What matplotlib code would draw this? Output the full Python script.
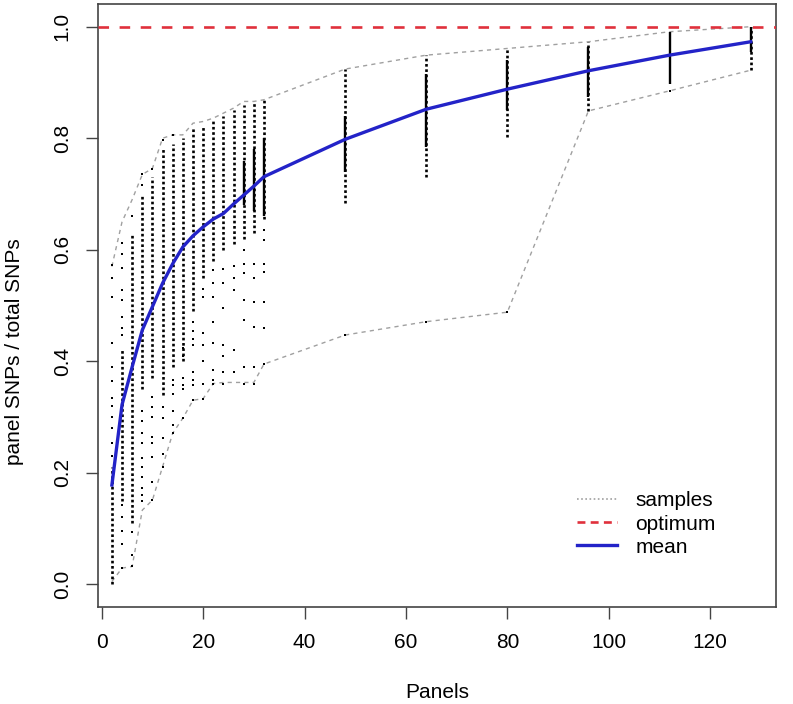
import matplotlib.pyplot as plt
from matplotlib.lines import Line2D

plt.rcParams['font.family'] = ['Liberation Sans', 'DejaVu Sans']

# panel counts and summary curves
panels = [2, 4, 6, 8, 10, 12, 14, 16, 18, 20, 22, 24, 26, 28, 30, 32, 48, 64, 80, 96, 112, 128]
mean_frac = [0.178, 0.322, 0.39, 0.456, 0.498, 0.540, 0.575, 0.605, 0.625, 0.641, 0.655,
             0.665, 0.682, 0.698, 0.714, 0.731, 0.798, 0.852, 0.888, 0.921, 0.949, 0.973]
upper_env = [0.570, 0.650, 0.690, 0.735, 0.746, 0.800, 0.806, 0.806, 0.827, 0.830, 0.836,
             0.845, 0.854, 0.866, 0.866, 0.869, 0.924, 0.949, 0.961, 0.973, 0.991, 1.0]
lower_env = [0.005, 0.029, 0.032, 0.133, 0.151, 0.211, 0.271, 0.298, 0.330, 0.333, 0.360,
             0.362, 0.362, 0.362, 0.362, 0.395, 0.447, 0.471, 0.488, 0.849, 0.885, 0.922]

# sample values: dotted runs (x, lo, hi), solid runs (x, lo, hi), isolated values
dotted_runs = [(2, 0.0, 0.21), (4, 0.15, 0.42), (6, 0.11, 0.63), (8, 0.35, 0.70),
               (10, 0.37, 0.73), (12, 0.34, 0.78), (14, 0.39, 0.79), (16, 0.40, 0.80),
               (18, 0.49, 0.82), (20, 0.55, 0.82), (22, 0.58, 0.83), (24, 0.60, 0.84),
               (26, 0.61, 0.85), (28, 0.62, 0.86), (30, 0.63, 0.865), (32, 0.655, 0.868),
               (48, 0.684, 0.924), (64, 0.73, 0.949), (80, 0.803, 0.961), (96, 0.849, 0.973),
               (128, 0.922, 1.0)]
solid_runs = [(28, 0.68, 0.76), (30, 0.67, 0.78), (32, 0.66, 0.80), (48, 0.74, 0.84),
              (64, 0.785, 0.916), (80, 0.85, 0.94), (96, 0.874, 0.964), (112, 0.898, 0.991),
              (128, 0.955, 1.0)]
single_x = [2] * 12 + [4] * 13 + [6] * 4 + [8] * 12 + [10] * 9 + [12] * 6 + [14] * 7 \
    + [16] * 6 + [18] * 8 + [20] * 7 + [22] * 8 + [24] * 7 + [26] * 5 + [28] * 7 \
    + [30] * 6 + [32] * 7 + [48, 64, 80, 112]
single_y = [0.23, 0.253, 0.28, 0.30, 0.32, 0.335, 0.364, 0.39, 0.432, 0.515, 0.55, 0.573,
            0.029, 0.073, 0.095, 0.12, 0.142, 0.447, 0.46, 0.48, 0.51, 0.528, 0.567, 0.593, 0.612,
            0.032, 0.052, 0.094, 0.66,
            0.15, 0.16, 0.172, 0.193, 0.21, 0.227, 0.254, 0.272, 0.292, 0.31, 0.716, 0.735,
            0.151, 0.184, 0.229, 0.254, 0.265, 0.30, 0.318, 0.336, 0.745,
            0.211, 0.233, 0.263, 0.298, 0.318, 0.797,
            0.271, 0.286, 0.31, 0.341, 0.357, 0.366, 0.806,
            0.298, 0.35, 0.357, 0.37, 0.41, 0.423,
            0.33, 0.357, 0.366, 0.38, 0.43, 0.44, 0.455, 0.47,
            0.333, 0.36, 0.40, 0.43, 0.45, 0.515, 0.53,
            0.36, 0.366, 0.384, 0.432, 0.47, 0.515, 0.54, 0.563,
            0.36, 0.38, 0.41, 0.43, 0.495, 0.54, 0.565,
            0.38, 0.42, 0.528, 0.55, 0.57,
            0.36, 0.39, 0.474, 0.51, 0.558, 0.575, 0.60,
            0.36, 0.39, 0.461, 0.507, 0.55, 0.575,
            0.395, 0.46, 0.507, 0.56, 0.574, 0.618, 0.635,
            0.447, 0.471, 0.488, 0.885]

x_ticks = [0, 20, 40, 60, 80, 100, 120]
y_ticks = [0.0, 0.2, 0.4, 0.6, 0.8, 1.0]

fig = plt.figure(figsize=(7.93, 7.04), dpi=100)
ax = fig.add_axes([0.1232, 0.1382, 0.8554, 0.8561])

ax.plot(panels, upper_env, color='#a0a0a0', lw=1.0, dashes=(3, 3))
ax.plot(panels, lower_env, color='#a0a0a0', lw=1.0, dashes=(3, 3))

ax.vlines([r[0] for r in dotted_runs], [r[1] for r in dotted_runs], [r[2] for r in dotted_runs],
          color='black', lw=1.9, linestyles=(0, (1, 1.0)))
ax.vlines([r[0] for r in solid_runs], [r[1] for r in solid_runs], [r[2] for r in solid_runs],
          color='black', lw=1.7)
ax.plot(single_x, single_y, ls='none', marker='s', ms=1.8, color='black', mew=0)

ax.plot(panels, mean_frac, color='#2323c8', lw=2.4, zorder=5)
ax.axhline(1.0, color='#e0303c', lw=1.9, dashes=(4, 4), zorder=6)

ax.set_xlim(-0.8, 133.0)
ax.set_ylim(-0.0402, 1.0407)
ax.set_xticks(x_ticks)
ax.set_yticks(y_ticks)
ax.set_xticklabels([str(v) for v in x_ticks])
ax.set_yticklabels(['%.1f' % v for v in y_ticks], rotation=90, va='center')
ax.tick_params(direction='out', length=8.6, width=1.0, color='#444444',
               labelsize=15, pad=10)
for s in ax.spines.values():
    s.set_color('#444444')
    s.set_linewidth(1.2)

fig.text(15 / 793, 0.5, 'panel SNPs / total SNPs', rotation=90, ha='center', va='center', fontsize=15)
fig.text(437 / 793, 11 / 704, 'Panels', ha='center', va='center', fontsize=15)

handles = [Line2D([], [], color='#a0a0a0', lw=1.2, ls=(0, (1, 1.5))),
           Line2D([], [], color='#e0303c', lw=1.9, dashes=(3, 2)),
           Line2D([], [], color='#2323c8', lw=2.4)]
ax.legend(handles, ['samples', 'optimum', 'mean'], loc='center left',
          bbox_to_anchor=(0.7066, 0.1372), frameon=False, fontsize=15,
          handlelength=1.9, handletextpad=0.9, labelspacing=0.2,
          borderpad=0, borderaxespad=0)

fig.savefig('out.png', dpi=100)
